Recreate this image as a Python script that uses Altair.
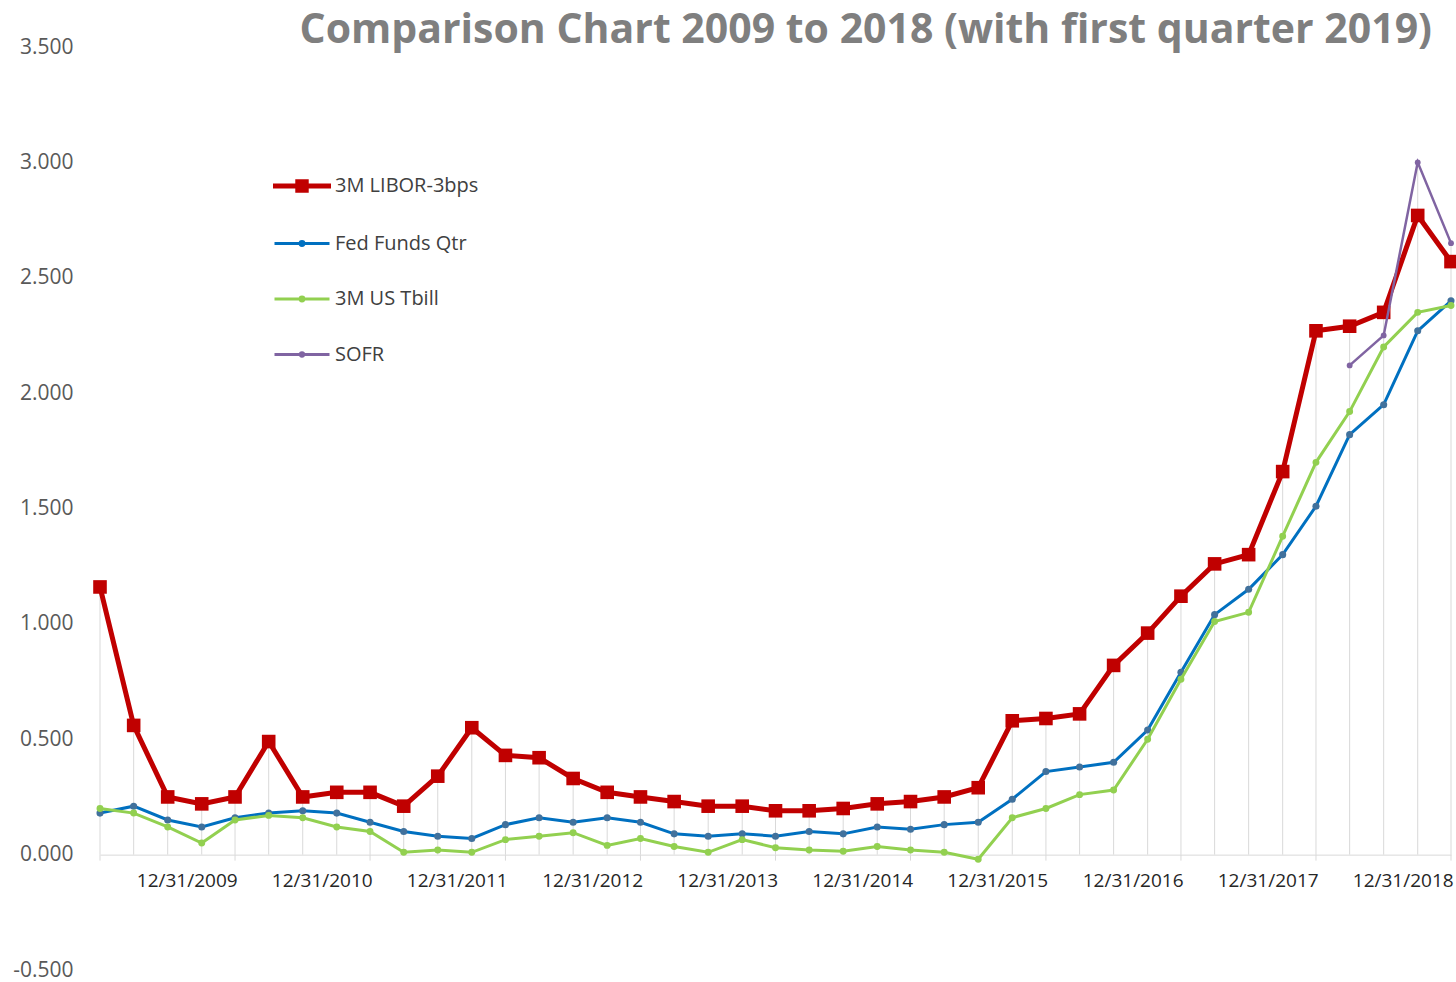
import altair as alt
import pandas as pd

# Quarter-end observation dates: 3/31/2009 through 3/31/2019
quarter_dates = [f"{y}-{md}" for y in range(2009, 2020)
                 for md in ("03-31", "06-30", "09-30", "12-31")][:41]

libor = [1.16, 0.56, 0.25, 0.22, 0.25, 0.49, 0.25, 0.27, 0.27, 0.21, 0.34, 0.55,
         0.43, 0.42, 0.33, 0.27, 0.25, 0.23, 0.21, 0.21, 0.19, 0.19, 0.20, 0.22,
         0.23, 0.25, 0.29, 0.58, 0.59, 0.61, 0.82, 0.96, 1.12, 1.26, 1.30, 1.66,
         2.27, 2.29, 2.35, 2.77, 2.57]
fed_funds = [0.18, 0.21, 0.15, 0.12, 0.16, 0.18, 0.19, 0.18, 0.14, 0.10, 0.08, 0.07,
             0.13, 0.16, 0.14, 0.16, 0.14, 0.09, 0.08, 0.09, 0.08, 0.10, 0.09, 0.12,
             0.11, 0.13, 0.14, 0.24, 0.36, 0.38, 0.40, 0.54, 0.79, 1.04, 1.15, 1.30,
             1.51, 1.82, 1.95, 2.27, 2.40]
tbill = [0.20, 0.18, 0.12, 0.05, 0.15, 0.17, 0.16, 0.12, 0.10, 0.01, 0.02, 0.01,
         0.065, 0.08, 0.095, 0.04, 0.07, 0.035, 0.01, 0.065, 0.03, 0.02, 0.015, 0.035,
         0.02, 0.01, -0.02, 0.16, 0.20, 0.26, 0.28, 0.50, 0.76, 1.01, 1.05, 1.38,
         1.70, 1.92, 2.20, 2.35, 2.38]
sofr = [None] * 37 + [2.12, 2.25, 3.00, 2.65]

series_names = ["3M LIBOR-3bps", "Fed Funds Qtr", "3M US Tbill", "SOFR"]
series_values = [libor, fed_funds, tbill, sofr]
line_colors = ["#C00000", "#0070C0", "#92D050", "#8064A2"]
marker_colors = ["#C00000", "#41719C", "#92D050", "#8064A2"]
line_widths = [5, 3, 3, 2.5]
marker_shapes = ["square", "circle", "circle", "circle"]
marker_sizes = [185, 50, 48, 34]

# Legend glyphs: a line segment with the series marker on it
legend_paths = [
    "M-1,-0.036H1V0.036H-1ZM-0.19,-0.19H0.19V0.19H-0.19Z",
    "M-1,0H1M-0.07,0A0.07,0.07 0 1,0 0.07,0A0.07,0.07 0 1,0 -0.07,0Z",
    "M-1,0H1M-0.07,0A0.07,0.07 0 1,0 0.07,0A0.07,0.07 0 1,0 -0.07,0Z",
    "M-1,0H1M-0.06,0A0.06,0.06 0 1,0 0.06,0A0.06,0.06 0 1,0 -0.06,0Z",
]

label_years = list(range(2009, 2019))      # 12/31 labels
tick_dates = [f"{y}-03-31" for y in range(2009, 2020)]
y_ticks = [-0.5, 0.0, 0.5, 1.0, 1.5, 2.0, 2.5, 3.0, 3.5]

rows = []
for name, vals in zip(series_names, series_values):
    for d, v in zip(quarter_dates, vals):
        if v is not None:
            rows.append({"date": d, "series": name, "value": v})
long_df = pd.DataFrame(rows)
ticks_df = pd.DataFrame({"date": tick_dates})

W, H = 1351, 923
FONT = "Open Sans"
GRID = "#D9D9D9"

x_scale = alt.Scale(type="utc", domain=[alt.DateTime(year=2009, month=3, date=31, utc=True),
                                        alt.DateTime(year=2019, month=3, date=31, utc=True)])
x_axis = alt.Axis(
    values=[alt.DateTime(year=y, month=12, date=31, utc=True) for y in label_years],
    format="%m/%d/%Y", title=None, ticks=False, tickSize=0, grid=False,
    domainColor=GRID, domainWidth=1, offset=-H * 0.5 / 4,
    labelPadding=17, labelOffset=-15, labelFont=FONT, labelFontSize=19,
    labelColor="#262626", labelOverlap=False, labelFlush=False,
)
y_scale = alt.Scale(domain=[-0.5, 3.5], nice=False, zero=False)
y_axis = alt.Axis(
    values=y_ticks, title=None, domain=False, ticks=False, grid=False,
    labelExpr="datum.value < 0 ? '-' + format(-datum.value, '.3f') : format(datum.value, '.3f')",
    labelPadding=27, labelFont=FONT, labelFontSize=21, labelColor="#595959",
)


def X(field="date:T"):
    return alt.X(field, scale=x_scale, axis=x_axis)


base = alt.Chart(long_df)

# Drop lines from the highest series value down to the zero line
drop_lines = base.transform_aggregate(
    top="max(value)", groupby=["date"]
).mark_rule(color=GRID, strokeWidth=1).encode(
    x=X(), y=alt.Y("top:Q", scale=y_scale, axis=y_axis), y2=alt.datum(0)
)

# Vertical axis line
axis_line = alt.Chart(ticks_df).transform_filter(
    "datum.date == '2009-03-31'"
).mark_rule(color=GRID, strokeWidth=1).encode(
    x=X(), y=alt.Y(datum=3.585, scale=y_scale, axis=y_axis), y2=alt.datum(0)
)

# Yearly tick marks below the zero line
tick_marks = alt.Chart(ticks_df).mark_rule(color=GRID, strokeWidth=1).encode(
    x=X(), y=alt.Y(datum=0, scale=y_scale, axis=y_axis), y2=alt.datum(-0.026)
)

layers = [drop_lines, axis_line, tick_marks]
for name, lc, mc, lw, shp, sz in zip(series_names, line_colors, marker_colors,
                                     line_widths, marker_shapes, marker_sizes):
    sub = base.transform_filter(alt.datum.series == name)
    layers.append(sub.mark_line(color=lc, strokeWidth=lw).encode(
        x=X(), y=alt.Y("value:Q", scale=y_scale, axis=y_axis)))
    layers.append(sub.mark_point(filled=True, shape=shp, size=sz, color=mc, opacity=1).encode(
        x=X(), y=alt.Y("value:Q", scale=y_scale, axis=y_axis)))

legend = alt.Legend(orient="none", legendX=173, legendY=110, title=None)
legend_layer = base.transform_filter("false").mark_point(filled=True, strokeWidth=3).encode(
    x=X(), y=alt.Y("value:Q", scale=y_scale, axis=y_axis),
    fill=alt.Fill("series:N", scale=alt.Scale(domain=series_names, range=marker_colors), legend=legend),
    stroke=alt.Stroke("series:N", scale=alt.Scale(domain=series_names, range=line_colors), legend=legend),
    shape=alt.Shape("series:N", scale=alt.Scale(domain=series_names, range=legend_paths), legend=legend),
)
layers.append(legend_layer)

chart = alt.layer(*layers).properties(
    width=W, height=H,
    autosize=alt.AutoSizeParams(type="none"),
    padding={"left": 100, "top": 47, "right": 5, "bottom": 12},
    title=alt.Title(
        "Comparison Chart 2009 to 2018 (with first quarter 2019)",
        anchor="end", frame="group", dx=-19, dy=48, offset=0,
        font=FONT, fontSize=41, fontWeight="bold", color="#7F7F7F",
        baseline="alphabetic",
    ),
).configure_view(stroke=None).configure_legend(
    labelFont=FONT, labelFontSize=20, labelColor="#404040", labelOffset=4,
    symbolSize=3025, symbolStrokeWidth=3, rowPadding=16.5, padding=0,
    symbolOpacity=1,
)

chart.save("out.html", embed_options={"renderer": "svg", "actions": False})
